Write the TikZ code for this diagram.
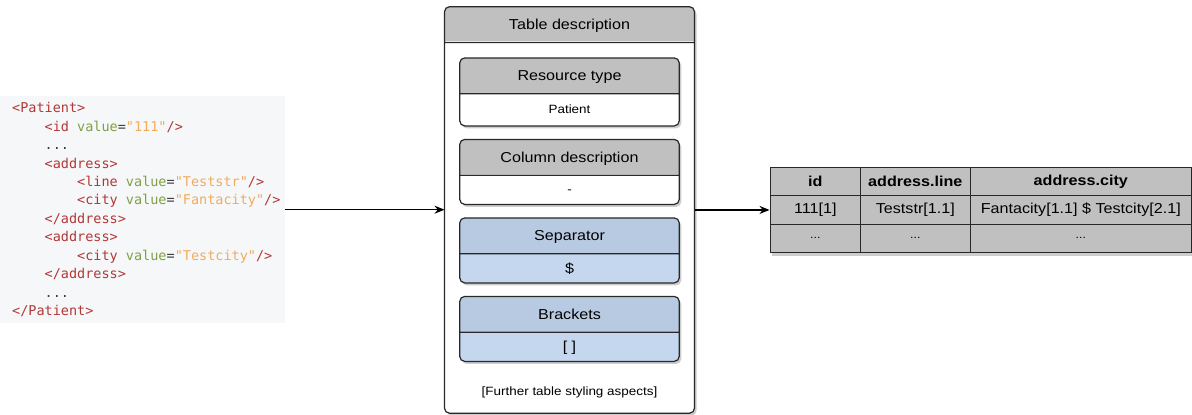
\documentclass[tikz,border=0pt]{standalone}
\usepackage{fontspec}
\setmainfont[FakeStretch=1.12]{Liberation Sans}
\setmonofont{DejaVu Sans Mono}
\usepackage{xcolor}
\usepackage{tikz}
\usetikzlibrary{shapes.multipart, arrows.meta, positioning, matrix, shadows, fit, backgrounds}
\definecolor{hdrgray}{RGB}{192,192,192}
\definecolor{sephdr}{RGB}{184,202,226}
\definecolor{sepbody}{RGB}{197,215,239}
\definecolor{codebg}{RGB}{245,247,249}
\definecolor{tagred}{RGB}{180,55,55}
\definecolor{attrgreen}{RGB}{128,160,68}
\definecolor{valorange}{RGB}{242,172,92}
\definecolor{plain}{RGB}{60,60,60}
\definecolor{edge}{RGB}{40,40,40}
\definecolor{shade}{RGB}{205,205,205}
\newcommand{\xtag}[1]{\textcolor{tagred}{#1}}
\newcommand{\xattr}[1]{\textcolor{attrgreen}{#1}}
\newcommand{\xval}[1]{\textcolor{valorange}{#1}}
\newcommand{\xind}{\phantom{xxxx}}
\newcommand{\hdstrut}{\rule[-12.4pt]{0pt}{34.6pt}}
\newcommand{\bdstrut}{\rule[-9pt]{0pt}{28pt}}
\tikzset{
    codebox/.style={rectangle, fill=codebg, anchor=north west, minimum width=285pt, minimum height=227pt},
    xmltext/.style={anchor=west, align=left, inner sep=0pt, text=plain, font=\ttfamily\fontsize{13.5}{18.45}\selectfont},
    header/.style={path picture={\fill[#1, sharp corners] (path picture bounding box.north west) rectangle ([yshift=-34.6pt]path picture bounding box.north east);}},
    field/.style={rectangle split, rectangle split parts=2, draw=edge, line width=1.2pt, rounded corners=5pt, minimum width=219.5pt, inner xsep=0pt, inner ysep=0pt, outer sep=0pt, fill=white, header=hdrgray, drop shadow={shadow xshift=2pt, shadow yshift=-2.5pt, opacity=1, fill=shade}, font=\fontsize{14.4}{17}\selectfont},
    option/.style={field, fill=sepbody, header=sephdr},
    outer/.style={field, minimum width=250pt},
    note/.style={inner sep=0pt, font=\fontsize{12}{14}\selectfont},
    arrow/.style={-{Stealth[length=10pt, width=8pt]}, line width=1.2pt, black},
    tblshadow/.style={inner sep=0pt, fill=shade, xshift=2pt, yshift=-2.5pt},
    datatable/.style={matrix of nodes, inner sep=0pt, column sep=-1.2pt, row sep=-1.2pt,
        nodes={anchor=center, draw=edge, line width=1.2pt, fill=hdrgray, minimum height=28.3pt, inner sep=0pt, font=\fontsize{14.4}{17}\selectfont},
        column 1/.style={nodes={minimum width=90pt}},
        column 2/.style={nodes={minimum width=110pt}},
        column 3/.style={nodes={minimum width=221pt}},
        row 1/.style={nodes={font=\bfseries\fontsize{14.4}{17}\selectfont}},
        row 3/.style={nodes={font=\fontsize{11}{13}\selectfont}}}
}
\begin{document}
\begin{tikzpicture}[x=1pt, y=-1pt]
    \useasboundingbox (0,0) rectangle (1192,415);

    % XML resource
    \node[codebox] (code) at (0,96) {};
    \node[xmltext] (xml) at ([xshift=12pt]code.west) {%
        \xtag{<Patient>}\\
        \xind\xtag{<id} \xattr{value}=\xval{"111"}\xtag{/>}\\
        \xind...\\
        \xind\xtag{<address>}\\
        \xind\xind\xtag{<line} \xattr{value}=\xval{"Teststr"}\xtag{/>}\\
        \xind\xind\xtag{<city} \xattr{value}=\xval{"Fantacity"}\xtag{/>}\\
        \xind\xtag{</address>}\\
        \xind\xtag{<address>}\\
        \xind\xind\xtag{<city} \xattr{value}=\xval{"Testcity"}\xtag{/>}\\
        \xind\xtag{</address>}\\
        \xind...\\
        \xtag{</Patient>}};

    % Table description
    \node[outer, anchor=north] (tdesc) at (569.5,6.7)
        {\hdstrut Table description \nodepart{two}\rule{0pt}{369.5pt}};
    \node[field, below=15.4pt of tdesc.text split] (rt)
        {\hdstrut Resource type \nodepart{two}\rule[-11.5pt]{0pt}{31pt}\fontsize{12}{14}\selectfont Patient};
    \node[field, below=13.5pt of rt] (cd)
        {\hdstrut Column description \nodepart{two}\rule[-10.5pt]{0pt}{28pt}\fontsize{12}{14}\selectfont -};
    \node[option, below=13.5pt of cd] (sep)
        {\hdstrut Separator \nodepart{two}\bdstrut \$};
    \node[option, below=13.5pt of sep] (br)
        {\hdstrut Brackets \nodepart{two}\bdstrut [ ]};
    \node[note, below=25pt of br] (more) {[Further table styling aspects]};

    % Resulting table
    \matrix[datatable, right=75pt of tdesc] (tbl) {
        id & address.line & address.city \\
        111[1] & Teststr[1.1] & Fantacity[1.1] \$ Testcity[2.1] \\
        ... & ... & ... \\
    };
    \begin{scope}[on background layer]
        \node[tblshadow, fit=(tbl)] (tblsh) {};
    \end{scope}

    % Arrows
    \draw[arrow] (code.east) -- (code.east -| tdesc.west);
    \draw[arrow] (tdesc.east) -- (tbl.west);
\end{tikzpicture}
\end{document}
